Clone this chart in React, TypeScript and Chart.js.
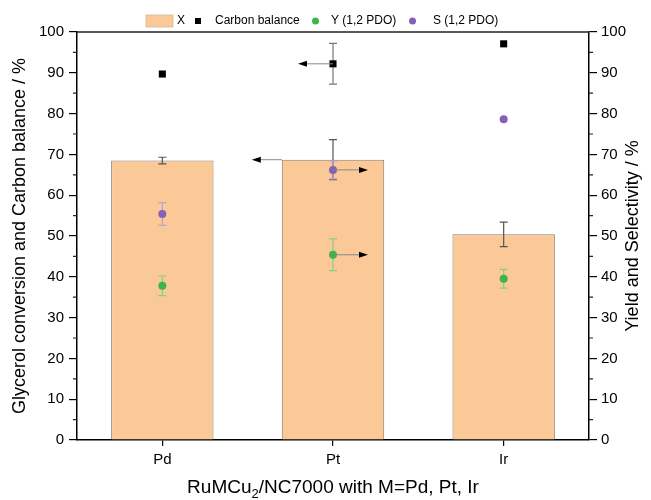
import React, { useEffect, useRef } from 'react';
import { Chart, registerables } from 'chart.js';
Chart.register(...registerables);

const categories = ['Pd', 'Pt', 'Ir'];
const conversion = [68.5, 68.7, 50.4];
const conversionErr = [0.8, 4.9, 3.0];
const carbonBalance = [89.7, 92.2, 97.1];
const carbonBalanceErr = [0, 5.0, 0];
const yieldPDO = [37.8, 45.4, 39.5];
const yieldErr = [2.4, 3.9, 2.3];
const selectivity = [55.4, 66.2, 78.6];
const selectivityErr = [2.8, 2.2, 0];

const axisMin = 0;
const axisMax = 100;
const axisStep = 10;

const FONT = '"Liberation Sans", Arial, sans-serif';
const BAR_FILL = '#FBC898';
const BAR_BORDER = '#8C7E70';
const GREEN = '#3DB54A';
const PURPLE = '#8560B4';

export default function App() {
  const ref = useRef<HTMLCanvasElement>(null);

  useEffect(() => {
    const errorPlugin = {
      id: 'errorBars',
      drawErr(chart: any, index: number) {
        const ds: any = chart.data.datasets[index];
        if (!ds.errors) return;
        const meta = chart.getDatasetMeta(index);
        const scale = chart.scales[ds.yAxisID];
        const ctx = chart.ctx;
        ctx.save();
        ctx.strokeStyle = ds.errorColor;
        ctx.lineWidth = 1.2;
        meta.data.forEach((el: any, j: number) => {
          const e = ds.errors[j];
          if (!e) return;
          const v = ds.data[j];
          const x = el.x;
          const yt = scale.getPixelForValue(v + e);
          const yb = scale.getPixelForValue(v - e);
          ctx.beginPath();
          ctx.moveTo(x, yt); ctx.lineTo(x, yb);
          ctx.moveTo(x - 4, yt); ctx.lineTo(x + 4, yt);
          ctx.moveTo(x - 4, yb); ctx.lineTo(x + 4, yb);
          ctx.stroke();
        });
        ctx.restore();
      },
      afterDatasetDraw(chart: any, args: any) {
        const ds: any = chart.data.datasets[args.index];
        if (ds.type === 'bar') (this as any).drawErr(chart, args.index);
      },
      beforeDatasetDraw(chart: any, args: any) {
        const ds: any = chart.data.datasets[args.index];
        if (ds.type !== 'bar') (this as any).drawErr(chart, args.index);
      },
    };

    const arrows = [
      { ds: 1, cat: 1, dir: -1, len: 35, fromBarEdge: false },
      { ds: 0, cat: 1, dir: -1, len: 30, fromBarEdge: true },
      { ds: 3, cat: 1, dir: 1, len: 35, fromBarEdge: false },
      { ds: 2, cat: 1, dir: 1, len: 35, fromBarEdge: false },
    ];

    const decorPlugin = {
      id: 'decor',
      afterDatasetsDraw(chart: any) {
        const ctx = chart.ctx;
        const a = chart.chartArea;
        // arrows
        arrows.forEach((ar) => {
          const meta = chart.getDatasetMeta(ar.ds);
          const el: any = meta.data[ar.cat];
          const ds: any = chart.data.datasets[ar.ds];
          const y = chart.scales[ds.yAxisID].getPixelForValue(ds.data[ar.cat]);
          let x0 = el.x;
          if (ar.fromBarEdge) x0 = el.x - el.width / 2;
          const x1 = x0 + ar.dir * ar.len;
          ctx.save();
          ctx.strokeStyle = '#888';
          ctx.lineWidth = 1;
          ctx.beginPath();
          ctx.moveTo(x0, y);
          ctx.lineTo(x1 - ar.dir * 8, y);
          ctx.stroke();
          ctx.fillStyle = '#000';
          ctx.beginPath();
          ctx.moveTo(x1, y);
          ctx.lineTo(x1 - ar.dir * 9, y - 3);
          ctx.lineTo(x1 - ar.dir * 9, y + 3);
          ctx.closePath();
          ctx.fill();
          ctx.restore();
        });
      },
      afterDraw(chart: any) {
        const ctx = chart.ctx;
        const a = chart.chartArea;
        ctx.save();
        // frame top line
        ctx.strokeStyle = '#222';
        ctx.lineWidth = 1.5;
        ctx.beginPath();
        ctx.moveTo(a.left, a.top);
        ctx.lineTo(a.right, a.top);
        ctx.stroke();
        // minor ticks
        const yl = chart.scales.y;
        ctx.lineWidth = 1.2;
        for (let v = axisMin + axisStep / 2; v < axisMax; v += axisStep) {
          const py = yl.getPixelForValue(v);
          ctx.beginPath();
          ctx.moveTo(a.left - 4, py); ctx.lineTo(a.left, py);
          ctx.moveTo(a.right, py); ctx.lineTo(a.right + 4, py);
          ctx.stroke();
        }
        // titles
        ctx.fillStyle = '#000';
        ctx.font = `18px ${FONT}`;
        ctx.textAlign = 'center';
        ctx.textBaseline = 'middle';
        const cy = (a.top + a.bottom) / 2;
        ctx.save();
        ctx.translate(20, cy);
        ctx.rotate(-Math.PI / 2);
        ctx.fillText('Glycerol conversion and Carbon balance / %', 0, 0);
        ctx.restore();
        ctx.save();
        ctx.translate(633, cy);
        ctx.rotate(-Math.PI / 2);
        ctx.fillText('Yield and Selectivity / %', 0, 0);
        ctx.restore();
        // x title with subscript
        const p1 = 'RuMCu';
        const sub = '2';
        const p2 = '/NC7000 with M=Pd, Pt, Ir';
        ctx.font = `19px ${FONT}`;
        const w1 = ctx.measureText(p1).width;
        const w3 = ctx.measureText(p2).width;
        ctx.font = `13px ${FONT}`;
        const w2 = ctx.measureText(sub).width;
        const total = w1 + w2 + w3;
        const cx = (a.left + a.right) / 2;
        let x = cx - total / 2;
        const ty = 488;
        ctx.textAlign = 'left';
        ctx.font = `19px ${FONT}`;
        ctx.fillText(p1, x, ty);
        x += w1;
        ctx.font = `13px ${FONT}`;
        ctx.fillText(sub, x, ty + 6);
        x += w2;
        ctx.font = `19px ${FONT}`;
        ctx.fillText(p2, x, ty);
        // legend
        const ly = 21;
        ctx.font = `12px ${FONT}`;
        ctx.textBaseline = 'middle';
        ctx.fillStyle = BAR_FILL;
        ctx.fillRect(146, ly - 6, 27, 12);
        ctx.strokeStyle = '#d8b898';
        ctx.lineWidth = 0.8;
        ctx.strokeRect(146, ly - 6, 27, 12);
        ctx.fillStyle = '#000';
        ctx.fillText('X', 177, ly);
        ctx.fillRect(195, ly - 3, 6, 6);
        ctx.fillText('Carbon balance', 215, ly);
        ctx.fillStyle = GREEN;
        ctx.beginPath(); ctx.arc(315.5, ly, 3.5, 0, Math.PI * 2); ctx.fill();
        ctx.fillStyle = '#000';
        ctx.fillText('Y (1,2 PDO)', 331, ly);
        ctx.fillStyle = PURPLE;
        ctx.beginPath(); ctx.arc(412.5, ly, 3.5, 0, Math.PI * 2); ctx.fill();
        ctx.fillStyle = '#000';
        ctx.fillText('S (1,2 PDO)', 433, ly);
        ctx.restore();
      },
    };

    const yAxisCommon = {
      min: axisMin,
      max: axisMax,
      ticks: { stepSize: axisStep, color: '#000', font: { size: 15, family: FONT }, padding: 5 },
      grid: { drawOnChartArea: false, drawTicks: true, tickLength: 8, color: '#000', lineWidth: 1.2 },
      border: { display: true, color: '#000', width: 1.5 },
    };

    const chart = new Chart(ref.current as HTMLCanvasElement, {
      type: 'bar',
      data: {
        labels: categories,
        datasets: [
          {
            type: 'bar',
            label: 'X',
            data: conversion,
            errors: conversionErr,
            errorColor: '#555',
            backgroundColor: BAR_FILL,
            borderColor: BAR_BORDER,
            borderWidth: 1,
            yAxisID: 'y',
            order: 10,
            barPercentage: 0.6,
            categoryPercentage: 1,
          } as any,
          {
            type: 'line',
            label: 'Carbon balance',
            data: carbonBalance,
            errors: carbonBalanceErr,
            errorColor: '#777',
            showLine: false,
            pointStyle: 'rect',
            pointRadius: 5,
            backgroundColor: '#000',
            borderColor: '#000',
            borderWidth: 0,
            yAxisID: 'y',
            order: 1,
          } as any,
          {
            type: 'line',
            label: 'Y (1,2 PDO)',
            data: yieldPDO,
            errors: yieldErr,
            errorColor: '#86CF86',
            showLine: false,
            pointStyle: 'circle',
            pointRadius: 4,
            backgroundColor: GREEN,
            borderColor: GREEN,
            borderWidth: 0,
            yAxisID: 'y2',
            order: 1,
          } as any,
          {
            type: 'line',
            label: 'S (1,2 PDO)',
            data: selectivity,
            errors: selectivityErr,
            errorColor: '#B9A2D2',
            showLine: false,
            pointStyle: 'circle',
            pointRadius: 4,
            backgroundColor: PURPLE,
            borderColor: PURPLE,
            borderWidth: 0,
            yAxisID: 'y2',
            order: 1,
          } as any,
        ],
      },
      options: {
        responsive: true,
        maintainAspectRatio: false,
        animation: false,
        layout: { padding: { top: 32, left: 0, right: 0, bottom: 0 } },
        plugins: { legend: { display: false }, tooltip: { enabled: false } },
        scales: {
          x: {
            type: 'category',
            offset: true,
            ticks: { color: '#000', font: { size: 15, family: FONT }, padding: 5 },
            grid: { offset: false, drawOnChartArea: false, drawTicks: true, tickLength: 6, color: '#000', lineWidth: 1.2 },
            border: { display: true, color: '#000', width: 1.5 },
            afterFit: (s: any) => { s.height = 60; },
          },
          y: {
            ...yAxisCommon,
            position: 'left',
            afterFit: (s: any) => { s.width = 77; },
          } as any,
          y2: {
            ...yAxisCommon,
            position: 'right',
            ticks: { ...yAxisCommon.ticks, padding: 4 },
            afterFit: (s: any) => { s.width = 62; },
          } as any,
        },
      },
      plugins: [errorPlugin, decorPlugin],
    });
    return () => chart.destroy();
  }, []);

  return (
    <div style={{ position: 'absolute', left: 0, top: 0, width: 651, height: 500 }}>
      <canvas ref={ref} />
    </div>
  );
}
